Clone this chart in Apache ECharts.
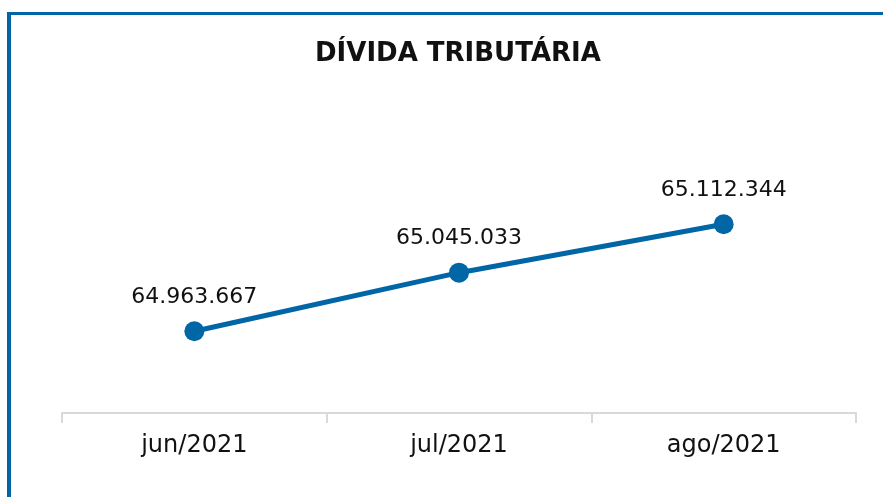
<!DOCTYPE html>
<html>
<head>
<meta charset="utf-8">
<script src="https://cdn.jsdelivr.net/npm/echarts@6/dist/echarts.min.js"></script>
<style>
  html, body { margin: 0; padding: 0; background: #fff; }
  #chart { width: 883px; height: 497px; }
</style>
</head>
<body>
<div id="chart"></div>
<script>
// dados
const meses = ['jun/2021', 'jul/2021', 'ago/2021'];
const divida = [64963667, 65045033, 65112344];

const fmt = v => String(v).replace(/\B(?=(\d{3})+(?!\d))/g, '.');

const myChart = echarts.init(document.getElementById('chart'), null, { renderer: 'canvas' });

const option = {
    backgroundColor: '#fff',
    animation: false,
    title: {
        text: 'DÍVIDA TRIBUTÁRIA',
        left: 310,
        top: 36,
        textStyle: {
            color: '#111',
            fontSize: 26,
            fontWeight: 'bold',
            fontFamily: 'DejaVu Sans'
        }
    },
    // moldura azul (esquerda e topo)
    graphic: [
        { type: 'rect', shape: { x: 7, y: 12, width: 876, height: 3 }, style: { fill: '#0066a6' } },
        { type: 'rect', shape: { x: 7, y: 12, width: 4, height: 485 }, style: { fill: '#0066a6' } }
    ],
    grid: { left: 62, right: 27, top: 100, bottom: 84 },
    xAxis: {
        type: 'category',
        data: meses,
        boundaryGap: true,
        axisLine: { lineStyle: { color: '#d9d9d9', width: 2 } },
        axisTick: { show: true, length: 10, lineStyle: { color: '#d9d9d9', width: 2 } },
        axisLabel: {
            color: '#111',
            fontSize: 24,
            fontFamily: 'DejaVu Sans',
            margin: 21
        }
    },
    yAxis: {
        type: 'value',
        show: false,
        min: 64850000,
        max: 65285000,
        splitLine: { show: false }
    },
    series: [
        {
            type: 'line',
            data: divida,
            symbol: 'circle',
            symbolSize: 20,
            lineStyle: { color: '#0066a6', width: 5 },
            itemStyle: { color: '#0066a6' },
            label: {
                show: true,
                position: 'top',
                distance: 13,
                color: '#111',
                fontSize: 22,
                fontFamily: 'DejaVu Sans',
                formatter: p => fmt(p.value)
            }
        }
    ]
};

option && myChart.setOption(option);
</script>
</body>
</html>
